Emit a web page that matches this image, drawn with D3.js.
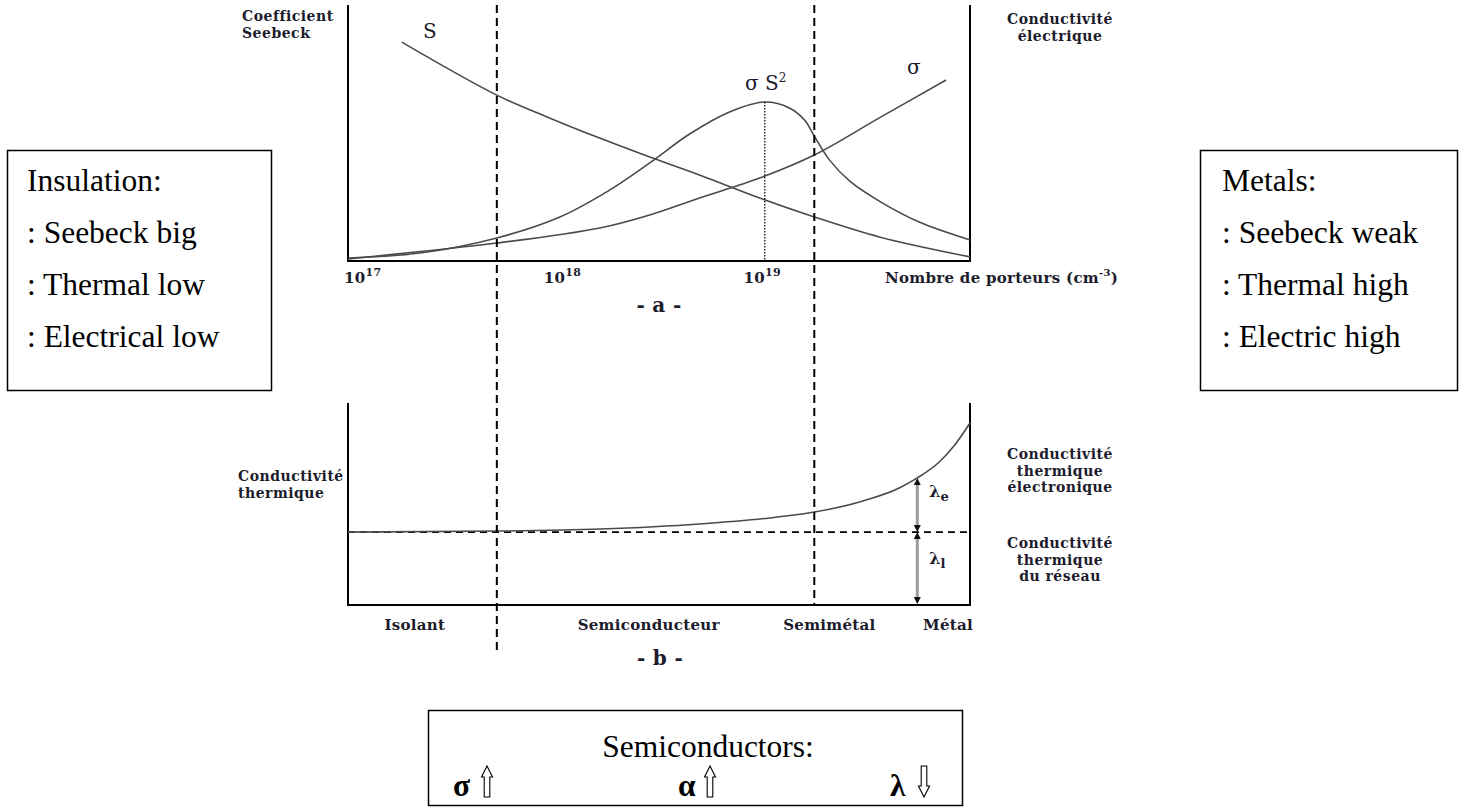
<!DOCTYPE html>
<html>
<head>
<meta charset="utf-8">
<script src="https://cdn.jsdelivr.net/npm/d3@7"></script>
<style>
  html, body { margin: 0; padding: 0; background: #fff; }
  svg { display: block; }
  .lbl { font-family: "DejaVu Serif", serif; font-weight: bold; font-size: 15px; letter-spacing: 0.3px; fill: #1c1c2c; }
  .note { font-family: "DejaVu Serif", serif; font-weight: bold; font-size: 14px; letter-spacing: 0.5px; fill: #1c1c2c; }
  .big { font-family: "Liberation Serif", "Times New Roman", serif; font-size: 31.5px; fill: #000; }
</style>
</head>
<body>
<svg id="chart" width="1468" height="807"></svg>
<script>
// Carrier density (cm^-3) axis
const carrierDomain = [1e17, 1.3e20];
const carrierTicks = [1e17, 1e18, 1e19];
const tickExponents = ["17", "18", "19"];

// Seebeck coefficient S (arbitrary units)
const seebeckN = [1.86e17, 5.56e17, 1.02e18, 1.82e18, 3.24e18, 5.75e18, 1.15e19, 2.16e19, 4.57e19, 1.3e20];
const seebeckV = [85.5, 64.8, 55.9, 48.0, 40.6, 33.6, 24.6, 17.2, 9.4, 1.6];

// Electrical conductivity sigma
const sigmaN = [1e17, 5.56e17, 1.82e18, 3.24e18, 5.75e18, 1.15e19, 2.16e19, 4.57e19, 9.87e19];
const sigmaV = [0.8, 7.0, 12.9, 18.0, 24.6, 32.4, 41.4, 55.9, 70.7];

// Power factor sigma S^2
const powerN = [1e17, 2.29e17, 5.56e17, 1.15e18, 2.04e18, 3.24e18, 5.13e18, 8.13e18, 1.22e19,
                1.62e19, 1.93e19, 2.16e19, 2.57e19, 3.24e19, 4.57e19, 7.24e19, 1.3e20];
const powerV = [1.2, 3.1, 9.0, 17.2, 27.7, 38.3, 49.6, 58.2, 62.1,
                59.8, 55.1, 48.8, 39.5, 31.3, 23.4, 15.2, 8.2];
const powerPeakN = 1.22e19;
const powerPeakV = 62.1;

// Thermal conductivity (total) and lattice part
const thermalN = [1e17, 5.75e17, 1.82e18, 5.75e18, 1.29e19, 2.16e19, 3.63e19, 5.75e19, 7.08e19, 9.12e19, 1.08e20, 1.3e20];
const thermalV = [36.1, 36.6, 37.6, 40.1, 43.1, 46.0, 51.0, 57.9, 62.9, 70.8, 78.7, 90.1];
const latticeV = 36.1;
const lambdaN = 7.08e19;

// Material regimes
const boundaries = [5.56e17, 2.16e19];
const regimeNames = ["Isolant", "Semiconducteur", "Semimétal", "Métal"];
const regimeCenters = [2.16e17, 3.2e18, 2.57e19, 1.01e20];

// Side notes
const insulatorNotes = ["Insulation:", ": Seebeck big", ": Thermal low", ": Electrical low"];
const metalNotes = ["Metals:", ": Seebeck weak", ": Thermal high", ": Electric high"];
const semiTitle = "Semiconductors:";
const semiSymbols = ["σ", "α", "λ"];
const semiTrends = ["up", "up", "down"];

const svg = d3.select("#chart");

const x = d3.scaleLog().domain(carrierDomain).range([348, 970]);
const yA = d3.scaleLinear().domain([0, 100]).range([261, 5]);
const yB = d3.scaleLinear().domain([0, 100]).range([605, 403]);

const x0 = x(carrierDomain[0]), x1 = x(carrierDomain[1]);
const curveColor = "#4a4a4a";

// stacked multi-line caption
function caption(g, lines, tx, ty, anchor) {
  lines.forEach((t, i) => {
    g.append("text").attr("class", "note").attr("x", tx).attr("y", ty + i * 16.5)
      .attr("text-anchor", anchor).text(t);
  });
}

// ---------- panel a ----------
const gA = svg.append("g");
gA.append("path")
  .attr("d", `M${x0},${yA(100)} V${yA(0)} H${x1} V${yA(100)}`)
  .attr("fill", "none").attr("stroke", "#000").attr("stroke-width", 2);

const lineA = d3.line().x(d => x(d[0])).y(d => yA(d[1])).curve(d3.curveCatmullRom.alpha(0.5));
const zip = (ns, vs) => ns.map((n, i) => [n, vs[i]]);

[[seebeckN, seebeckV], [sigmaN, sigmaV], [powerN, powerV]].forEach(([ns, vs]) => {
  gA.append("path").attr("d", lineA(zip(ns, vs)))
    .attr("fill", "none").attr("stroke", curveColor).attr("stroke-width", 1.6);
});

// dotted marker under the power factor maximum
gA.append("line")
  .attr("x1", x(powerPeakN)).attr("x2", x(powerPeakN))
  .attr("y1", yA(powerPeakV)).attr("y2", yA(0))
  .attr("stroke", "#222").attr("stroke-width", 1.4).attr("stroke-dasharray", "1.5,1.5");

// curve names
gA.append("text").attr("x", 423).attr("y", 38)
  .attr("font-family", "DejaVu Serif").attr("font-size", 20).attr("fill", "#1c1c2c").text("S");
const ps = gA.append("text").attr("x", 745).attr("y", 90)
  .attr("font-family", "DejaVu Serif").attr("font-size", 20).attr("fill", "#1c1c2c");
ps.append("tspan").text("σ S");
ps.append("tspan").attr("dy", -8).attr("font-size", 12).text("2");
gA.append("text").attr("x", 907).attr("y", 74)
  .attr("font-family", "DejaVu Serif").attr("font-size", 20).attr("fill", "#1c1c2c").text("σ");

// axis ticks
carrierTicks.forEach((t, i) => {
  const tx = gA.append("text").attr("class", "lbl").attr("x", x(t) - 4).attr("y", 283);
  tx.append("tspan").text("10");
  tx.append("tspan").attr("dy", -7).attr("font-size", 11).text(tickExponents[i]);
});
const ax = gA.append("text").attr("class", "lbl").attr("x", 885).attr("y", 283);
ax.append("tspan").text("Nombre de porteurs (cm");
ax.append("tspan").attr("dy", -7).attr("font-size", 10).text("-3");
ax.append("tspan").attr("dy", 7).text(")");

gA.append("text").attr("class", "lbl").attr("x", 659).attr("y", 312)
  .attr("text-anchor", "middle").style("font-size", "20px").text("- a -");

caption(gA, ["Coefficient", "Seebeck"], 242, 21, "start");
caption(gA, ["Conductivité", "électrique"], 1060, 24, "middle");

// ---------- panel b ----------
const gB = svg.append("g");
gB.append("path")
  .attr("d", `M${x0},${yB(100)} V${yB(0)} H${x1} V${yB(100)}`)
  .attr("fill", "none").attr("stroke", "#000").attr("stroke-width", 2);

gB.append("line")
  .attr("x1", x0).attr("x2", x1).attr("y1", yB(latticeV)).attr("y2", yB(latticeV))
  .attr("stroke", "#000").attr("stroke-width", 1.6).attr("stroke-dasharray", "7,5");

gB.append("path")
  .attr("d", d3.line().x(d => x(d[0])).y(d => yB(d[1])).curve(d3.curveMonotoneX)(zip(thermalN, thermalV)))
  .attr("fill", "none").attr("stroke", curveColor).attr("stroke-width", 1.6);

// lambda_e / lambda_l double arrows
const lx = x(lambdaN);
const lambdaTop = yB(thermalV[thermalN.indexOf(lambdaN)]);
const lambdaMid = yB(latticeV);
const lambdaBot = yB(0) - 1;
[[lambdaTop, lambdaMid], [lambdaMid, lambdaBot]].forEach(([a, b]) => {
  gB.append("line").attr("x1", lx).attr("x2", lx).attr("y1", a + 4).attr("y2", b - 4)
    .attr("stroke", "#9a9a9a").attr("stroke-width", 3);
  gB.append("path").attr("d", `M${lx},${a} l-3.5,7 h7 Z`).attr("fill", "#111");
  gB.append("path").attr("d", `M${lx},${b} l-3.5,-7 h7 Z`).attr("fill", "#111");
});
const le = gB.append("text").attr("x", lx + 12).attr("y", 497)
  .attr("font-family", "DejaVu Serif").attr("font-weight", "bold").attr("font-size", 16).attr("fill", "#1c1c2c");
le.append("tspan").text("λ");
le.append("tspan").attr("dy", 4).attr("font-size", 13).text("e");
const ll = gB.append("text").attr("x", lx + 12).attr("y", 564)
  .attr("font-family", "DejaVu Serif").attr("font-weight", "bold").attr("font-size", 16).attr("fill", "#1c1c2c");
ll.append("tspan").text("λ");
ll.append("tspan").attr("dy", 4).attr("font-size", 13).text("l");

regimeNames.forEach((name, i) => {
  gB.append("text").attr("class", "lbl").attr("x", x(regimeCenters[i])).attr("y", 630)
    .attr("text-anchor", "middle").text(name);
});
gB.append("text").attr("class", "lbl").attr("x", 660).attr("y", 665)
  .attr("text-anchor", "middle").style("font-size", "20px").text("- b -");

caption(gB, ["Conductivité", "thermique"], 238, 481, "start");
caption(gB, ["Conductivité", "thermique", "électronique"], 1060, 459, "middle");
caption(gB, ["Conductivité", "thermique", "du réseau"], 1060, 548, "middle");

// regime boundaries crossing both panels
svg.append("line").attr("x1", x(boundaries[0])).attr("x2", x(boundaries[0]))
  .attr("y1", yA(100)).attr("y2", 650)
  .attr("stroke", "#000").attr("stroke-width", 2).attr("stroke-dasharray", "8,5");
svg.append("line").attr("x1", x(boundaries[1])).attr("x2", x(boundaries[1]))
  .attr("y1", yA(100)).attr("y2", yB(0))
  .attr("stroke", "#000").attr("stroke-width", 2).attr("stroke-dasharray", "8,5");

// ---------- side notes ----------
function noteBox(bx, by, bw, bh, lines, tx) {
  svg.append("rect").attr("x", bx).attr("y", by).attr("width", bw).attr("height", bh)
    .attr("fill", "none").attr("stroke", "#000").attr("stroke-width", 1.5);
  lines.forEach((t, i) => {
    svg.append("text").attr("class", "big").attr("x", tx).attr("y", by + 40 + i * 52).text(t);
  });
}
noteBox(7.5, 150.5, 264, 240, insulatorNotes, 27);
noteBox(1200.5, 150.5, 257, 240, metalNotes, 1222);

svg.append("rect").attr("x", 428.5).attr("y", 710.5).attr("width", 534).attr("height", 95)
  .attr("fill", "none").attr("stroke", "#000").attr("stroke-width", 1.5);
svg.append("text").attr("class", "big").attr("x", 708).attr("y", 757)
  .attr("text-anchor", "middle").text(semiTitle);

const symX = [453, 678, 890];
const arrowX = [487, 710, 924];
function hollowArrow(cx, top, bot, dir) {
  const hw = 5.5, sw = 2.8, hh = 11;
  if (dir === "up") {
    return `M${cx},${top} L${cx + hw},${top + hh} L${cx + sw},${top + hh} L${cx + sw},${bot} L${cx - sw},${bot} L${cx - sw},${top + hh} L${cx - hw},${top + hh} Z`;
  }
  return `M${cx},${bot} L${cx + hw},${bot - hh} L${cx + sw},${bot - hh} L${cx + sw},${top} L${cx - sw},${top} L${cx - sw},${bot - hh} L${cx - hw},${bot - hh} Z`;
}
semiSymbols.forEach((s, i) => {
  svg.append("text").attr("class", "big").attr("font-weight", "bold")
    .attr("x", symX[i]).attr("y", 796).text(s);
  svg.append("path").attr("d", hollowArrow(arrowX[i], 766, 797, semiTrends[i]))
    .attr("fill", "#fff").attr("stroke", "#000").attr("stroke-width", 1.1);
});
</script>
</body>
</html>
